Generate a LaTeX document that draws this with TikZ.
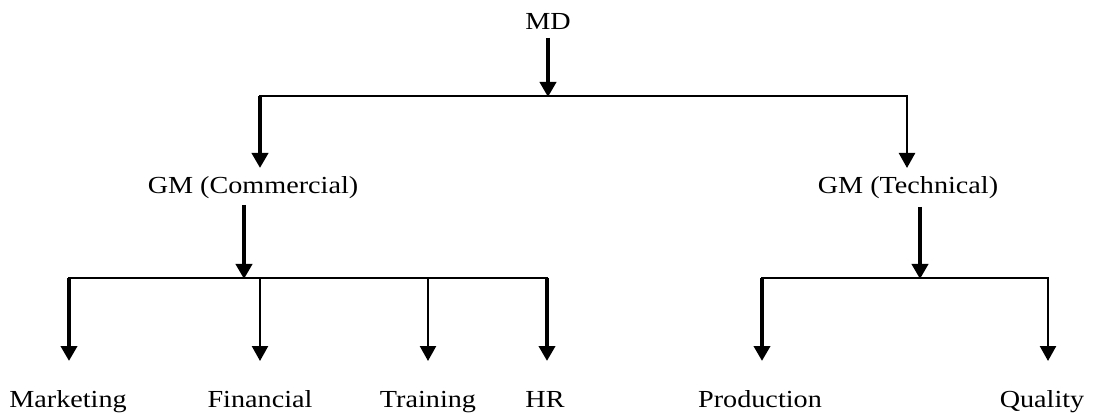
\documentclass[tikz,border=0pt]{standalone}
\usepackage{fontspec}
\setmainfont{Liberation Serif}[FakeStretch=1.15]
\usetikzlibrary{arrows.meta}
\begin{document}
\begin{tikzpicture}[x=1pt,y=-1pt,
  lbl/.style={inner sep=0pt,anchor=base,font=\fontsize{24.5}{28}\selectfont},
  bar/.style={line width=2pt,line cap=rect},
  thk/.style={line width=4pt,-{Triangle[length=15pt,width=16pt]}},
  thn/.style={line width=2.4pt,-{Triangle[length=15pt,width=16pt]}}]
\useasboundingbox (0,0) rectangle (1101,414);
% labels
\node[lbl] (md) at (548,30) {MD};
\node[lbl] (gmc) at (253,194) {GM (Commercial)};
\node[lbl] (gmt) at (908,194) {GM (Technical)};
\node[lbl] (mkt) at (68,407) {Marketing};
\node[lbl] (fin) at (260,407) {Financial};
\node[lbl] (trn) at (428,407) {Training};
\node[lbl] (hr) at (545,407) {HR};
\node[lbl] (prd) at (760,407) {Production};
\node[lbl] (qly) at (1042,407) {Quality};
% junction points
\coordinate (mdtop) at (548,38);
\coordinate (j1) at (548,97);
\coordinate (j1l) at (260,96);
\coordinate (j1r) at (907,96);
\coordinate (gmcin) at (260,168);
\coordinate (gmtin) at (907,168);
\coordinate (gmcout) at (244,205);
\coordinate (j2) at (244,279);
\coordinate (j2l) at (69,278);
\coordinate (j2f) at (260,278);
\coordinate (j2t) at (428,278);
\coordinate (j2r) at (547,278);
\coordinate (gmtout) at (920,207);
\coordinate (j3) at (920,279);
\coordinate (j3l) at (762,278);
\coordinate (j3r) at (1048,278);
\coordinate (mkin) at (69,361);
\coordinate (fiin) at (260,361);
\coordinate (trin) at (428,361);
\coordinate (hrin) at (547,361);
\coordinate (prin) at (762,361);
\coordinate (qlin) at (1048,361);
% top level
\draw[thk] (mdtop) -- (j1);
\draw[bar] (j1l) -- (j1r);
\draw[thk] (j1l) -- (gmcin);
\draw[thn] (j1r) -- (gmtin);
% commercial
\draw[thk] (gmcout) -- (j2);
\draw[bar] (j2l) -- (j2r);
\draw[thk] (j2l) -- (mkin);
\draw[thn] (j2f) -- (fiin);
\draw[thn] (j2t) -- (trin);
\draw[thk] (j2r) -- (hrin);
% technical
\draw[thk] (gmtout) -- (j3);
\draw[bar] (j3l) -- (j3r);
\draw[thk] (j3l) -- (prin);
\draw[thn] (j3r) -- (qlin);
\end{tikzpicture}
\end{document}
